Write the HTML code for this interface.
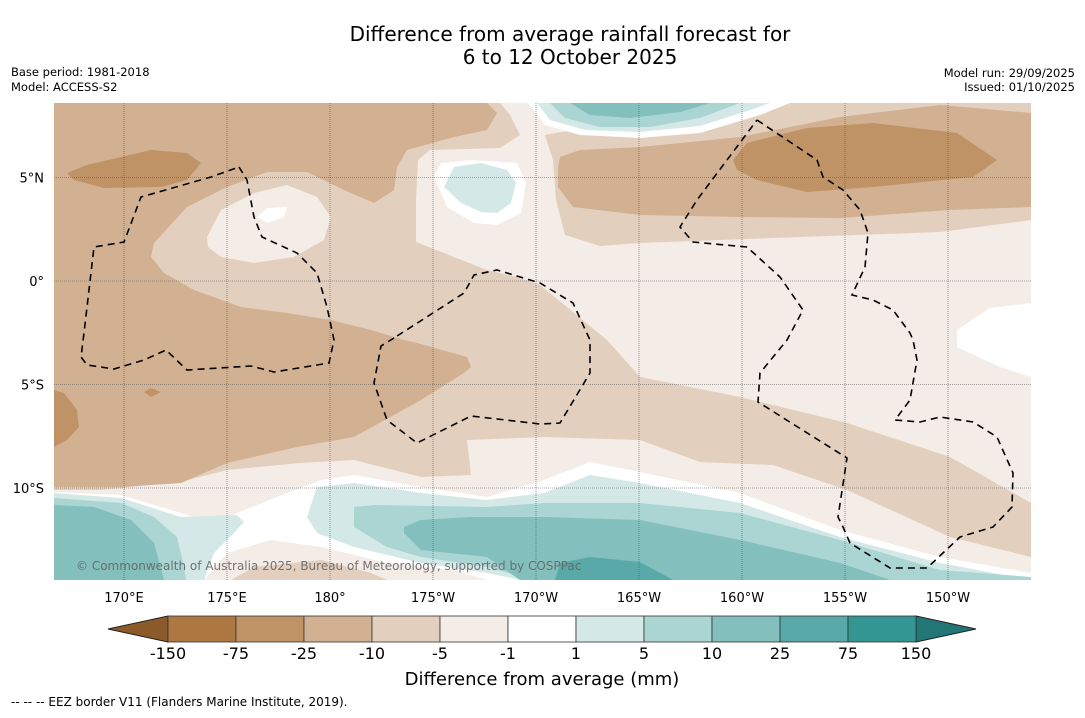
<!DOCTYPE html>
<html><head><meta charset="utf-8"><style>
body{margin:0;background:#fff;width:1085px;height:713px;overflow:hidden;font-family:"Liberation Sans","DejaVu Sans",sans-serif}
svg text{font-family:"DejaVu Sans","Liberation Sans",sans-serif}
</style></head><body>
<svg id="chart" width="1085" height="713" viewBox="0 0 1085 713" xmlns="http://www.w3.org/2000/svg">
<defs><clipPath id="mapclip"><rect x="54" y="103" width="977" height="477"/></clipPath></defs>
<text x="570" y="41" font-size="20" text-anchor="middle">Difference from average rainfall forecast for</text>
<text x="570" y="64" font-size="20" text-anchor="middle">6 to 12 October 2025</text>
<text x="11" y="76" font-size="11.5">Base period: 1981-2018</text>
<text x="11" y="91" font-size="11.5">Model: ACCESS-S2</text>
<text x="1075" y="77" font-size="11.5" text-anchor="end">Model run: 29/09/2025</text>
<text x="1075" y="91" font-size="11.5" text-anchor="end">Issued: 01/10/2025</text>
<g clip-path="url(#mapclip)" stroke="none">
<rect x="54" y="103" width="977" height="477" fill="#f4ece6"/>
<polygon fill="#e3cfbd" points="54,103 500,103 510,115 520,135 500,148 430,150 418,160 416,200 416,242 454,257 487,270 520,278 540,285 607,340 640,377 740,397 847,423 950,457 1031,503 1031,557 950,537 847,490 773,465 700,462 640,440 544,437 467,440 471,475 421,477 354,460 300,463 227,470 180,482 100,490 54,490"/>
<polygon fill="#e3cfbd" points="545,135 600,125 700,110 780,103 1031,103 1031,220 940,232 800,237 640,243 600,246 565,235 556,200 553,160"/>
<polygon fill="#ffffff" points="1031,303 990,308 957,330 957,347 1000,367 1031,377"/>
<polygon fill="#d2b092" points="54,103 487,103 497,113 487,130 454,137 407,150 397,167 394,190 374,203 344,190 307,172 267,172 227,187 187,207 154,243 151,257 164,273 194,290 241,307 287,313 331,320 371,330 404,340 417,343 467,357 471,367 464,373 421,400 354,437 297,447 227,463 181,483 121,487 54,487"/>
<polygon fill="#d2b092" points="560,157 580,150 640,147 740,137 840,117 940,105 1031,113 1031,207 950,210 840,218 740,217 640,215 573,207 558,187 558,167"/>
<polygon fill="#c09366" points="67,173 87,165 151,150 187,153 201,163 187,180 161,187 104,188 74,180"/>
<polygon fill="#c09366" points="733,160 747,143 807,128 873,123 957,133 997,160 973,177 873,187 807,192 757,180 737,170"/>
<polygon fill="#c09366" points="54,390 64,393 77,410 79,427 67,440 54,447"/>
<polygon fill="#c09366" points="144,392 151,388 161,392 151,397"/>
<polygon fill="#f4ece6" points="207,237 221,210 254,193 287,185 317,197 331,217 324,240 294,257 254,263 221,257 208,247"/>
<polygon fill="#ffffff" points="257,217 267,208 287,207 284,217 267,223"/>
<polygon fill="#ffffff" points="434,177 441,163 471,160 517,163 526,183 521,213 497,225 474,223 447,207"/>
<polygon fill="#d4e8e7" points="444,187 454,167 481,163 507,170 516,183 511,203 497,213 481,212 461,203"/>
<polygon fill="#ffffff" points="528,103 545,125 580,135 640,138 700,133 760,115 790,103"/>
<polygon fill="#d4e8e7" points="537,103 550,120 585,130 640,132 700,126 750,110 770,103"/>
<polygon fill="#aad5d3" points="550,103 565,118 600,127 650,127 700,118 740,103"/>
<polygon fill="#82bfbd" points="570,103 590,115 630,118 680,112 710,103"/>
<polygon fill="#ffffff" points="54,492 121,495 181,513 204,520 227,517 287,493 321,480 354,475 421,487 487,497 544,480 590,462 640,472 740,493 840,530 940,557 1031,573 1031,580 54,580"/>
<polygon fill="#f4ece6" points="204,580 227,553 271,540 321,547 387,563 454,570 487,580"/>
<polygon fill="#e3cfbd" points="231,580 254,567 321,560 371,573 387,580"/>
<polygon fill="#d4e8e7" points="54,493 121,498 181,517 237,515 244,522 234,533 214,553 204,580 54,580"/>
<polygon fill="#aad5d3" points="54,498 121,503 154,517 177,537 184,567 186,580 54,580"/>
<polygon fill="#82bfbd" points="54,505 94,507 131,520 154,543 164,580 54,580"/>
<polygon fill="#d4e8e7" points="307,517 317,487 354,483 421,493 487,500 544,493 590,475 640,483 740,503 840,537 940,563 1031,580 521,580 487,573 421,563 354,547 317,533"/>
<polygon fill="#aad5d3" points="354,507 374,505 487,507 544,503 640,503 740,513 840,540 940,570 1031,577 1031,580 534,580 487,567 421,557 387,547 354,527"/>
<polygon fill="#82bfbd" points="404,527 421,520 471,517 544,517 640,520 740,540 840,563 890,580 520,580 487,557 421,550 404,533"/>
<polygon fill="#58a9a8" points="560,563 590,557 640,562 673,580 555,580"/>
<g id="grid"></g>
<g fill="none" stroke="#000" stroke-width="1.6" stroke-dasharray="7,5">
<polygon points="239,167 247,180 254,217 262,237 297,253 317,273 327,307 334,340 329,363 274,372 251,366 187,370 166,350 144,360 114,369 87,365 81,357 84,333 94,247 124,242 141,197 211,177"/>
<polygon points="394,338 381,346 374,383 387,420 417,443 471,416 540,424 560,423 590,373 590,340 573,303 540,283 497,270 474,275 464,293"/>
<polyline points="757,120 787,140 817,160 823,177 843,190 860,210 868,233 865,267 852,295 873,300 893,310 910,333 913,340 917,360 910,400 895,420 920,422 940,417 973,422 997,437 1013,473 1012,507 993,527 960,537 927,568 890,568 850,543 843,527 838,517 847,458 758,402 760,373 787,340 803,310 780,277 747,247 693,242 680,227 697,200 757,120"/>
</g>
<text x="76" y="570" font-size="12" fill="#666" fill-opacity="0.9">© Commonwealth of Australia 2025, Bureau of Meteorology, supported by COSPPac</text>
</g>
<g id="axes"></g>
<g id="colorbar"></g>
<text x="542" y="685" font-size="18" text-anchor="middle">Difference from average (mm)</text>
<text x="11" y="706" font-size="12">--  --  -- EEZ border V11 (Flanders Marine Institute, 2019).</text>
</svg>
<script>
const lonTicks=[170,175,180,-175,-170,-165,-160,-155,-150];
const lonLabels=["170°E","175°E","180°","175°W","170°W","165°W","160°W","155°W","150°W"];
const latTicks=[5,0,-5,-10];
const latLabels=["5°N","0°","5°S","10°S"];
const levels=[-150,-75,-25,-10,-5,-1,1,5,10,25,75,150];
const colors=["#ad7841","#c09366","#d2b092","#e3cfbd","#f4ece6","#ffffff","#d4e8e7","#aad5d3","#82bfbd","#58a9a8","#339693"];
const tipColors=["#8c5a28","#227676"];
const NS="http://www.w3.org/2000/svg";
function lonX(l){const e=l<0?l+360:l;return 124+(e-170)*20.6;}
function latY(l){return 281-l*20.7;}
function mk(t,a,p){const e=document.createElementNS(NS,t);for(const k in a)e.setAttribute(k,a[k]);p.appendChild(e);return e;}
const grid=document.getElementById('grid'),axes=document.getElementById('axes'),cb=document.getElementById('colorbar');
lonTicks.forEach((l,i)=>{const x=lonX(l);
 const g=mk('line',{x1:x,x2:x,y1:103,y2:580,stroke:'#555','stroke-width':0.6,'stroke-dasharray':'1,1'},grid);
 
 
 const t=mk('text',{x:x,y:602,'font-size':13,'text-anchor':'middle'},axes);t.textContent=lonLabels[i];
 
 });
latTicks.forEach((l,i)=>{const y=latY(l);
 const g=mk('line',{x1:54,x2:1031,y1:y,y2:y,stroke:'#555','stroke-width':0.6,'stroke-dasharray':'1,1'},grid);
 
 
 const t=mk('text',{x:44,y:y+5,'font-size':13,'text-anchor':'end'},axes);t.textContent=latLabels[i];
 
 });
const cx0=168,cw=68,cy=616,ch=26;
const lt=mk('polygon',{points:`108,${cy+ch/2} ${cx0},${cy} ${cx0},${cy+ch}`,fill:tipColors[0],stroke:'#222','stroke-width':1},cb);


const rx=cx0+cw*colors.length;
const rt=mk('polygon',{points:`${rx},${cy} 976,${cy+ch/2} ${rx},${cy+ch}`,fill:tipColors[1],stroke:'#222','stroke-width':1},cb);


colors.forEach((c,i)=>{const r=mk('rect',{x:cx0+i*cw,y:cy,width:cw,height:ch,fill:c,stroke:'#333','stroke-width':0.8},cb);
 
 });
levels.forEach((v,i)=>{const t=mk('text',{x:cx0+i*cw,y:cy+ch+17,'font-size':16,'text-anchor':'middle'},cb);t.textContent=v;
 
 });
</script>
</body></html>
